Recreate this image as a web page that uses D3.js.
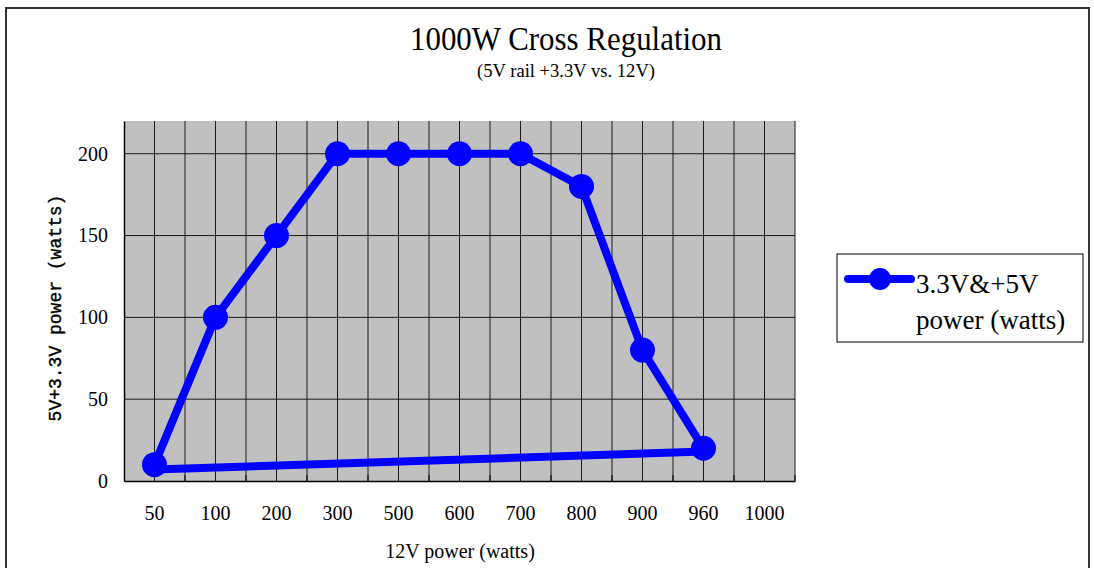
<!DOCTYPE html>
<html>
<head>
<meta charset="utf-8">
<script src="https://cdn.jsdelivr.net/npm/d3@7"></script>
<style>
  body { margin: 0; background: #fff; }
  text { font-family: "Liberation Serif", "Times New Roman", serif; fill: #000; }
</style>
</head>
<body>
<script>
// categories on the x axis (12V power)
var categories = ["50", "100", "200", "300", "500", "600", "700", "800", "900", "960", "1000"];
// 3.3V & 5V power for each category (last one has no point)
var railValues = [10, 100, 150, 200, 200, 200, 200, 180, 80, 20, null];
// closing segment back to the start
var closeCats = ["960", "50"];
var closeValues = [18, 7];
var yTicks = [0, 50, 100, 150, 200];

var fullwidth = 1094, fullheight = 568;
var margin = {top: 121, left: 124},
    width = 671,
    height = 360;

var svg = d3.select("body").append("svg")
    .attr("width", fullwidth)
    .attr("height", fullheight);

// outer frame
svg.append("rect")
    .attr("x", 6).attr("y", 8)
    .attr("width", 1083).attr("height", 580)
    .attr("fill", "none")
    .attr("stroke", "#333")
    .attr("stroke-width", 2);

// title
svg.append("text")
    .attr("x", 566).attr("y", 50)
    .attr("text-anchor", "middle")
    .attr("textLength", 312).attr("lengthAdjust", "spacingAndGlyphs")
    .style("font-size", "33px")
    .text("1000W Cross Regulation");

svg.append("text")
    .attr("x", 566).attr("y", 77)
    .attr("text-anchor", "middle")
    .attr("textLength", 178).attr("lengthAdjust", "spacingAndGlyphs")
    .style("font-size", "18px")
    .text("(5V rail +3.3V vs. 12V)");

var g = svg.append("g")
    .attr("transform", "translate(" + margin.left + "," + margin.top + ")");

var x = d3.scaleBand().domain(categories).range([0, width]).padding(0);
var y = d3.scaleLinear().domain([0, 220]).range([height, 0]);
var bw = x.bandwidth();
function cx(c) { return x(c) + bw / 2; }

// plot background
g.append("rect")
    .attr("width", width).attr("height", height)
    .attr("fill", "#c0c0c0");

// vertical gridlines: band boundaries and centres
var vlines = [];
categories.forEach(function(c) { vlines.push(cx(c)); vlines.push(x(c) + bw); });
g.selectAll(".vgrid")
    .data(vlines)
  .enter().append("line")
    .attr("class", "vgrid")
    .attr("x1", function(d) { return d; })
    .attr("x2", function(d) { return d; })
    .attr("y1", 0).attr("y2", height)
    .attr("stroke", "#1a1a1a")
    .attr("stroke-width", 1);

// horizontal gridlines
g.selectAll(".hgrid")
    .data(yTicks.slice(1))
  .enter().append("line")
    .attr("class", "hgrid")
    .attr("x1", 0).attr("x2", width)
    .attr("y1", function(d) { return y(d); })
    .attr("y2", function(d) { return y(d); })
    .attr("stroke", "#1a1a1a")
    .attr("stroke-width", 1);

// x axis
var xAxis = g.append("g")
    .attr("transform", "translate(0," + height + ")")
    .call(d3.axisBottom(x).tickSize(0).tickPadding(25));
xAxis.select(".domain").attr("stroke", "#000").attr("stroke-width", 1.5);
xAxis.selectAll("text")
    .style("font-size", "20px")
    .style("font-family", "'Liberation Serif', serif");

// small inner ticks on band boundaries
g.selectAll(".xtick")
    .data(categories)
  .enter().append("line")
    .attr("x1", function(c) { return x(c) + bw; })
    .attr("x2", function(c) { return x(c) + bw; })
    .attr("y1", height).attr("y2", height - 6)
    .attr("stroke", "#000");

// y axis
var yAxis = g.append("g")
    .call(d3.axisLeft(y).tickValues(yTicks).tickSize(0).tickPadding(16));
yAxis.select(".domain").attr("stroke", "#000").attr("stroke-width", 1.5);
yAxis.selectAll("text")
    .style("font-size", "20px")
    .style("font-family", "'Liberation Serif', serif");

// axis titles
svg.append("text")
    .attr("x", 460).attr("y", 558)
    .attr("text-anchor", "middle")
    .style("font-size", "20px")
    .text("12V power (watts)");

svg.append("text")
    .attr("transform", "translate(61,308) rotate(-90)")
    .attr("text-anchor", "middle")
    .style("font-family", "'Liberation Mono', 'DejaVu Sans Mono', monospace")
    .style("font-size", "18px")
    .style("stroke", "#000")
    .style("stroke-width", "0.4px")
    .text("5V+3.3V power (watts)");

// data
var points = categories.map(function(c, i) { return {cat: c, v: railValues[i]}; })
    .filter(function(d) { return d.v != null; });
var closing = closeCats.map(function(c, i) { return {cat: c, v: closeValues[i]}; });

var line = d3.line()
    .x(function(d) { return cx(d.cat); })
    .y(function(d) { return y(d.v); });

g.append("path")
    .datum(closing)
    .attr("d", line)
    .attr("fill", "none")
    .attr("stroke", "#0000ff")
    .attr("stroke-width", 8);

g.append("path")
    .datum(points)
    .attr("d", line)
    .attr("fill", "none")
    .attr("stroke", "#0000ff")
    .attr("stroke-width", 8)
    .attr("stroke-linejoin", "round");

g.selectAll(".dot")
    .data(points)
  .enter().append("circle")
    .attr("class", "dot")
    .attr("r", 12.5)
    .attr("cx", function(d) { return cx(d.cat); })
    .attr("cy", function(d) { return y(d.v); })
    .attr("fill", "#0000ff");

// legend
var legend = svg.append("g").attr("transform", "translate(837,254)");
legend.append("rect")
    .attr("width", 246).attr("height", 88)
    .attr("fill", "#fff")
    .attr("stroke", "#000")
    .attr("stroke-width", 1);
legend.append("line")
    .attr("x1", 11).attr("x2", 74)
    .attr("y1", 25).attr("y2", 25)
    .attr("stroke", "#0000ff")
    .attr("stroke-width", 8)
    .attr("stroke-linecap", "round");
legend.append("circle")
    .attr("cx", 43).attr("cy", 25).attr("r", 11)
    .attr("fill", "#0000ff");
legend.append("text")
    .attr("x", 79).attr("y", 39)
    .style("font-size", "27px")
    .text("3.3V&+5V");
legend.append("text")
    .attr("x", 79).attr("y", 75)
    .style("font-size", "27px")
    .text("power (watts)");
</script>
</body>
</html>
